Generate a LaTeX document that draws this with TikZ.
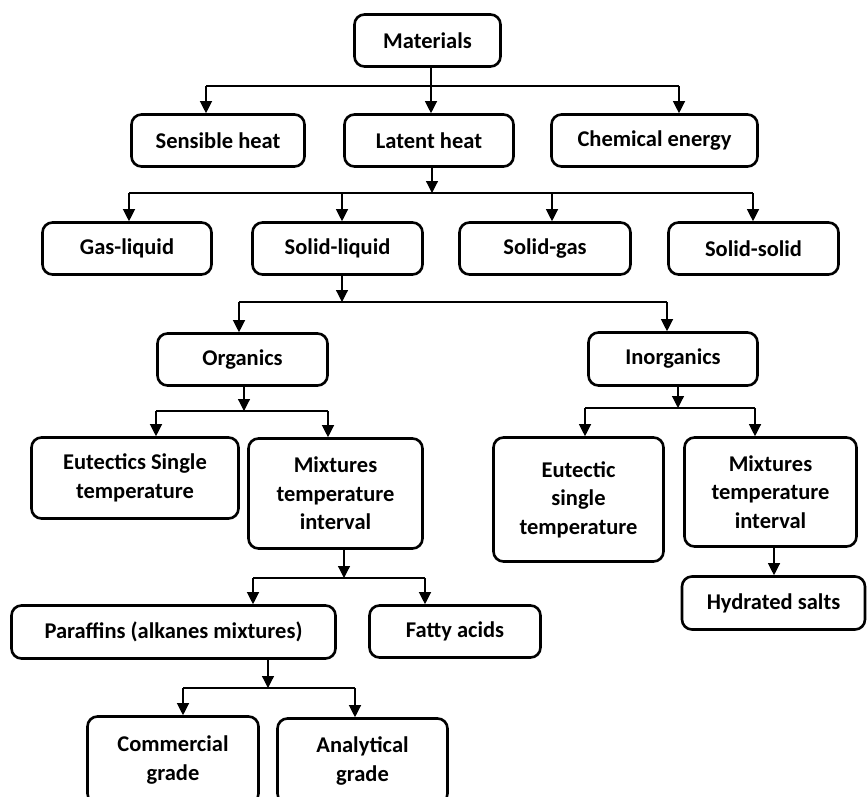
\documentclass[tikz,border=0pt]{standalone}
\usepackage{fontspec}
\setmainfont{Carlito}
\usetikzlibrary{arrows.meta}
\begin{document}
\begin{tikzpicture}[x=1pt,y=-1pt,>={Triangle[length=12pt,width=12pt]},
		box/.style={draw,line width=2.6pt,rounded corners=10pt,align=center,inner sep=0pt,
			font=\fontsize{22.5}{28.5}\selectfont\bfseries},
		conn/.style={line width=1.2pt},
		bar/.style={line width=1.9pt}]
				\useasboundingbox (0,0) rectangle (867,797);
				\clip (0,0) rectangle (867,797);
				% boxes
				\node[box,minimum width=146pt,minimum height=52pt] (mat) at (427.5,40.5) {Materials};
				\node[box,minimum width=173pt,minimum height=52pt] (sens) at (218,140.5) {Sensible heat};
				\node[box,minimum width=169pt,minimum height=52pt] (lat) at (429,140.5) {Latent heat};
				\node[box,minimum width=206pt,minimum height=52pt] (chem) at (654.5,140.5) {Chemical energy};
				\node[box,minimum width=169pt,minimum height=52pt] (gasl) at (127,248.5) {Gas-liquid};
				\node[box,minimum width=170pt,minimum height=52pt] (soll) at (337.5,248.5) {Solid-liquid};
				\node[box,minimum width=171pt,minimum height=52pt] (solg) at (545,248.5) {Solid-gas};
				\node[box,minimum width=170pt,minimum height=52pt] (sols) at (753.5,248.5) {Solid-solid};
				\node[box,minimum width=170pt,minimum height=52pt] (org) at (242.5,359.5) {Organics};
				\node[box,minimum width=169pt,minimum height=53pt] (inorg) at (673,359) {Inorganics};
				\node[box,minimum width=207pt,minimum height=81pt] (eut1) at (135,478) {Eutectics Single\\temperature};
				\node[box,minimum width=174pt,minimum height=110pt] (mix1) at (335.5,493.5) {Mixtures\\temperature\\interval};
				\node[box,minimum width=170pt,minimum height=124pt] (eut2) at (578.5,499.5) {Eutectic\\single\\temperature};
				\node[box,minimum width=172pt,minimum height=109pt] (mix2) at (770.5,492) {Mixtures\\temperature\\interval};
				\node[box,minimum width=183pt,minimum height=53pt] (hyd) at (773.5,603) {Hydrated salts};
				\node[box,minimum width=324pt,minimum height=53pt] (para) at (173.5,632) {Paraffins (alkanes mixtures)};
				\node[box,minimum width=171pt,minimum height=52pt] (fatty) at (455,631.5) {Fatty acids};
				\node[box,minimum width=171pt,minimum height=87pt] (comm) at (173,760) {Commercial\\grade};
				\node[box,minimum width=170pt,minimum height=85pt] (anal) at (362.5,761) {Analytical\\grade};
				% junctions
				\coordinate (j0) at (431,86);
				\coordinate (b1l) at (206,86);
				\coordinate (b1r) at (679,86);
				\coordinate (j1) at (432,193);
				\coordinate (b2a) at (129,193);
				\coordinate (b2b) at (342,193);
				\coordinate (b2c) at (552,193);
				\coordinate (b2d) at (753,193);
				\coordinate (j2) at (342,302);
				\coordinate (b3l) at (239,302);
				\coordinate (b3r) at (667,302);
				\coordinate (j3) at (244,411);
				\coordinate (b4l) at (156,411);
				\coordinate (b4r) at (328,411);
				\coordinate (j4) at (678,408);
				\coordinate (b5l) at (585,408);
				\coordinate (b5r) at (755,408);
				\coordinate (j5) at (774,575);
				\coordinate (j6) at (344,578);
				\coordinate (b6l) at (253,578);
				\coordinate (b6r) at (425,578);
				\coordinate (j7) at (268,688);
				\coordinate (b7l) at (183,688);
				\coordinate (b7r) at (355,688);
				% bars
				\draw[bar] (b1l)--(b1r);
				\draw[bar] (b2a)--(b2d);
				\draw[bar] (b3l)--(b3r);
				\draw[bar] (b4l)--(b4r);
				\draw[bar] (b5l)--(b5r);
				\draw[bar] (b6l)--(b6r);
				\draw[bar] (b7l)--(b7r);
				% arrows
				\draw[conn,->] (j0 |- mat.south)--(j0 |- lat.north);
				\draw[conn,->] (b1l)--(b1l |- sens.north);
				\draw[conn,->] (b1r)--(b1r |- chem.north);
				\draw[conn,->] (j1 |- lat.south)--(j1);
				\draw[conn,->] (b2a)--(b2a |- gasl.north);
				\draw[conn,->] (b2b)--(b2b |- soll.north);
				\draw[conn,->] (b2c)--(b2c |- solg.north);
				\draw[conn,->] (b2d)--(b2d |- sols.north);
				\draw[conn,->] (j2 |- soll.south)--(j2);
				\draw[conn,->] (b3l)--(b3l |- org.north);
				\draw[conn,->] (b3r)--(b3r |- inorg.north);
				\draw[conn,->] (j3 |- org.south)--(j3);
				\draw[conn,->] (b4l)--(b4l |- eut1.north);
				\draw[conn,->] (b4r)--(b4r |- mix1.north);
				\draw[conn,->] (j4 |- inorg.south)--(j4);
				\draw[conn,->] (b5l)--(b5l |- eut2.north);
				\draw[conn,->] (b5r)--(b5r |- mix2.north);
				\draw[conn,->] (j5 |- mix2.south)--(j5 |- hyd.north);
				\draw[conn,->] (j6 |- mix1.south)--(j6);
				\draw[conn,->] (b6l)--(b6l |- para.north);
				\draw[conn,->] (b6r)--(b6r |- fatty.north);
				\draw[conn,->] (j7 |- para.south)--(j7);
				\draw[conn,->] (b7l)--(b7l |- comm.north);
				\draw[conn,->] (b7r)--(b7r |- anal.north);
		\end{tikzpicture}
\end{document}
